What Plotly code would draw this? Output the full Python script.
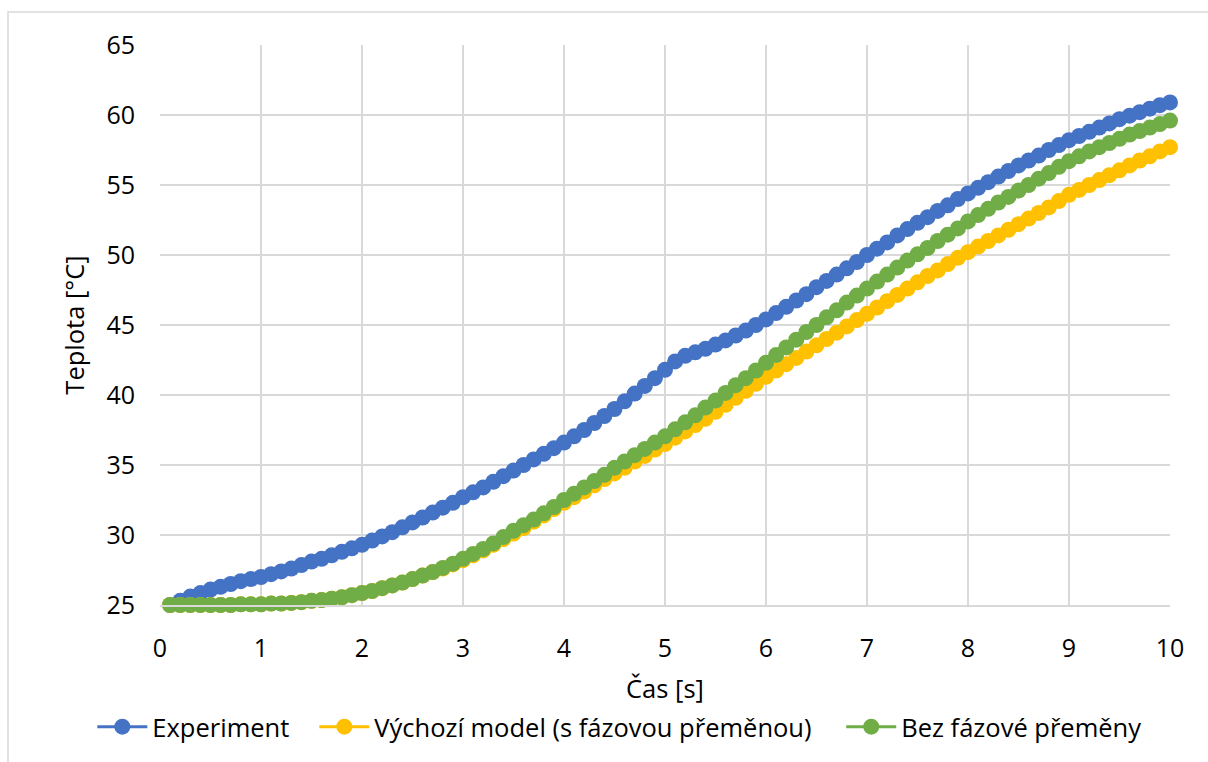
import plotly.graph_objects as go

# Time axis: samples every 0.1 s from 0.1 s to 10 s
time_s = [round(0.1 * i, 1) for i in range(1, 101)]

experiment = [
    25.0, 25.3, 25.6, 25.85, 26.1, 26.3, 26.5, 26.7, 26.85, 27.0,
    27.2, 27.4, 27.6, 27.85, 28.1, 28.3, 28.55, 28.8, 29.05, 29.3,
    29.6, 29.9, 30.2, 30.55, 30.9, 31.25, 31.6, 31.95, 32.3, 32.7,
    33.05, 33.4, 33.8, 34.2, 34.6, 35.0, 35.4, 35.8, 36.2, 36.6,
    37.05, 37.5, 38.0, 38.5, 39.0, 39.55, 40.1, 40.65, 41.2, 41.8,
    42.4, 42.8, 43.05, 43.3, 43.6, 43.9, 44.25, 44.6, 45.0, 45.4,
    45.85, 46.3, 46.75, 47.2, 47.7, 48.15, 48.6, 49.05, 49.5, 50.0,
    50.45, 50.9, 51.4, 51.85, 52.3, 52.7, 53.15, 53.55, 54.0, 54.4,
    54.8, 55.2, 55.6, 56.0, 56.4, 56.75, 57.1, 57.5, 57.85, 58.2,
    58.5, 58.8, 59.1, 59.4, 59.7, 59.95, 60.2, 60.45, 60.7, 60.9,
]

model_phase = [
    25.0, 25.0, 25.0, 25.0, 25.0, 25.0, 25.0, 25.05, 25.05, 25.05,
    25.1, 25.1, 25.15, 25.2, 25.3, 25.35, 25.45, 25.55, 25.7, 25.85,
    26.0, 26.2, 26.4, 26.6, 26.85, 27.1, 27.35, 27.6, 27.9, 28.2,
    28.55, 28.9, 29.3, 29.7, 30.1, 30.5, 30.95, 31.4, 31.85, 32.3,
    32.7, 33.1, 33.55, 34.0, 34.4, 34.8, 35.25, 35.65, 36.1, 36.5,
    36.95, 37.4, 37.85, 38.3, 38.8, 39.3, 39.8, 40.3, 40.8, 41.3,
    41.75, 42.2, 42.65, 43.1, 43.55, 44.0, 44.45, 44.9, 45.35, 45.8,
    46.25, 46.7, 47.15, 47.6, 48.05, 48.5, 48.9, 49.35, 49.8, 50.2,
    50.6, 51.0, 51.4, 51.8, 52.2, 52.6, 53.0, 53.4, 53.85, 54.3,
    54.65, 55.0, 55.35, 55.7, 56.05, 56.4, 56.75, 57.05, 57.4, 57.7,
]

no_phase = [
    25.0, 25.0, 25.0, 25.0, 25.0, 25.0, 25.0, 25.05, 25.05, 25.05,
    25.1, 25.1, 25.15, 25.2, 25.3, 25.35, 25.45, 25.55, 25.7, 25.85,
    26.0, 26.2, 26.4, 26.6, 26.85, 27.1, 27.35, 27.65, 27.95, 28.3,
    28.65, 29.0, 29.4, 29.85, 30.3, 30.7, 31.1, 31.55, 32.0, 32.5,
    32.95, 33.4, 33.85, 34.3, 34.8, 35.25, 35.7, 36.15, 36.6, 37.05,
    37.55, 38.05, 38.55, 39.1, 39.6, 40.15, 40.7, 41.2, 41.75, 42.3,
    42.85, 43.4, 43.95, 44.5, 45.0, 45.55, 46.05, 46.6, 47.1, 47.6,
    48.1, 48.6, 49.1, 49.6, 50.05, 50.5, 51.0, 51.45, 51.9, 52.4,
    52.85, 53.3, 53.75, 54.15, 54.6, 55.0, 55.45, 55.85, 56.3, 56.7,
    57.05, 57.4, 57.7, 58.0, 58.3, 58.6, 58.85, 59.1, 59.35, 59.6,
]

series = [
    ("Experiment", experiment, "#4472C4"),
    ("Výchozí model (s fázovou přeměnou)", model_phase, "#FFC000"),
    ("Bez fázové přeměny", no_phase, "#70AD47"),
]

x_ticks = list(range(0, 11))
y_ticks = list(range(25, 66, 5))

FONT = "'Open Sans', 'Noto Sans', sans-serif"
TICK_SIZE = 25
TEXT_SIZE = 25.5
GRID = "#D9D9D9"

# One single-entry legend per series so each entry sits at its own x position
legend_ids = ["legend", "legend2", "legend3"]
legend_x = [-0.067, 0.1528, 0.6745]

fig = go.Figure()
for (name, values, color), lid in zip(series, legend_ids):
    fig.add_trace(go.Scatter(
        x=time_s, y=values, name=name, mode="lines+markers",
        line=dict(color=color, width=3),
        marker=dict(color=color, size=16, line=dict(width=0)),
        cliponaxis=False, legend=lid,
    ))

# Light frame around the whole chart area (paper units relative to plot domain)
fig.add_shape(type="rect", xref="paper", yref="paper",
              x0=-0.1505, x1=1.05, y0=-0.30, y1=1.0589,
              line=dict(color=GRID, width=1.5), fillcolor="rgba(0,0,0,0)",
              layer="below")

legend_style = dict(orientation="h", xanchor="left", y=-0.218, yanchor="middle",
                    font=dict(size=TEXT_SIZE, family=FONT), itemwidth=50,
                    bgcolor="rgba(0,0,0,0)")

fig.update_layout(
    width=1208, height=762,
    margin=dict(l=160, r=38, t=45, b=157),
    paper_bgcolor="white", plot_bgcolor="white",
    font=dict(family=FONT, size=TICK_SIZE, color="#000000"),
    showlegend=True,
    legend=dict(x=legend_x[0], **legend_style),
    legend2=dict(x=legend_x[1], **legend_style),
    legend3=dict(x=legend_x[2], **legend_style),
    xaxis=dict(range=[0, 10], tickvals=x_ticks, ticktext=[str(v) for v in x_ticks],
               showgrid=True, gridcolor=GRID, gridwidth=1.5,
               zeroline=False, showline=True, linecolor=GRID, linewidth=1.5,
               ticks="", ticklabelstandoff=20,
               title=dict(text="Čas [s]", standoff=17, font=dict(size=TEXT_SIZE))),
    yaxis=dict(range=[25, 65], tickvals=y_ticks, ticktext=[str(v) for v in y_ticks],
               showgrid=True, gridcolor=GRID, gridwidth=1.5,
               zeroline=False, showline=False,
               ticks="", ticklabelstandoff=24,
               title=dict(text="Teplota [°C]", standoff=14, font=dict(size=TEXT_SIZE))),
)

fig.write_html("out.html")
